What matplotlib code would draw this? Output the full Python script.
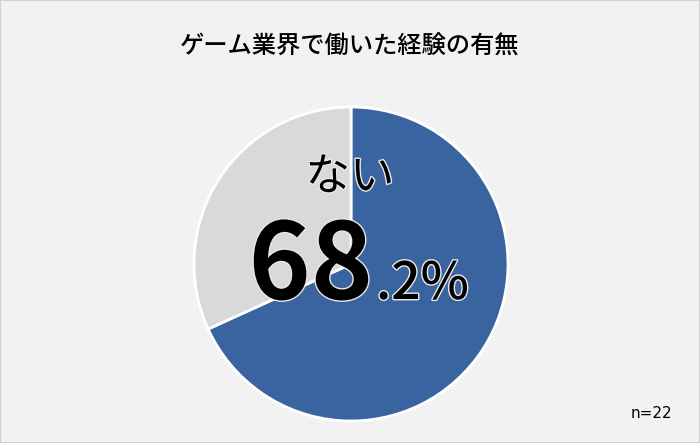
import matplotlib
matplotlib.use("Agg")
import matplotlib.pyplot as plt
import matplotlib.patheffects as pe
from matplotlib.patches import Rectangle

plt.rcParams["font.family"] = ["Noto Sans CJK JP", "DejaVu Sans"]

# データ
labels = ["ない", "ある"]
values = [68.2, 31.8]
colors = ["#3a64a0", "#d9d9d9"]
title = "ゲーム業界で働いた経験の有無"
n_label = "n=22"

W, H = 700, 443
fig = plt.figure(figsize=(W / 100, H / 100), dpi=100, facecolor="#f2f2f2")
fig.patches.append(Rectangle((0, 0), 1, 1, transform=fig.transFigure,
                             fill=False, edgecolor="#d0d0d0", lw=1.5))

cx, cy, r = 351, 264, 157
ax = fig.add_axes([(cx - r) / W, (H - cy - r) / H, 2 * r / W, 2 * r / H])
ax.pie(values, colors=colors, startangle=90, counterclock=False, radius=1,
       wedgeprops=dict(edgecolor="white", linewidth=2))
ax.set_xlim(-1, 1); ax.set_ylim(-1, 1)
ax.set_aspect("equal")
ax.axis("off")

fig.text(350 / W, 1 - 47 / H, title, ha="center", va="center",
         fontsize=17.5, fontweight="medium")
fig.text(672 / W, 1 - 413 / H, n_label, ha="right", va="center",
         fontsize=11, family=["DejaVu Sans"])

stroke = [pe.withStroke(linewidth=2, foreground="#e8e8e8")]
fig.text(350 / W, 1 - 177 / H, labels[0], ha="center", va="center",
         fontsize=32, path_effects=stroke)
whole, frac = f"{values[0]:.1f}".split(".")
fig.text(373 / W, 1 - 299 / H, whole, ha="right", va="baseline",
         fontsize=76, fontweight="bold", path_effects=stroke)
fig.text(376 / W, 1 - 299 / H, "." + frac + "%", ha="left", va="baseline",
         fontsize=37, fontweight="medium", path_effects=stroke)

fig.savefig("out.png", dpi=100, facecolor=fig.get_facecolor())
